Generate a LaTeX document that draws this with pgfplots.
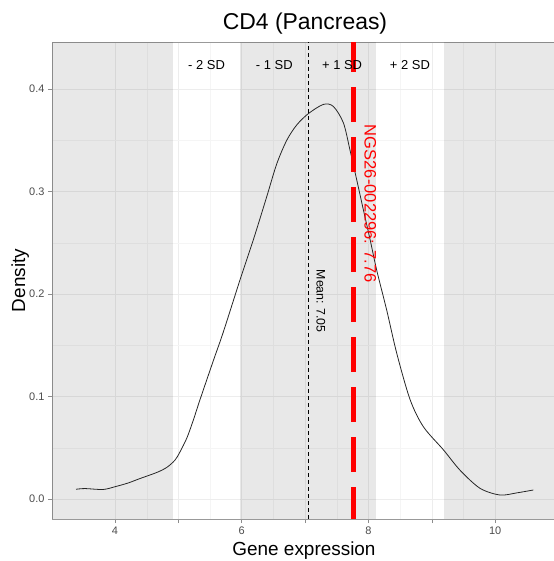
\documentclass[border=0pt]{standalone}
\usepackage{fontspec}
\setmainfont{Liberation Sans}
\usepackage{pgfplots}
\pgfplotsset{compat=1.18}
\begin{document}
\begin{tikzpicture}[x=1bp,y=1bp]
\def\xlo{3.005}\def\xhi{10.93}\def\ylo{-0.0195}\def\yhi{0.4459}
\begin{axis}[
 at={(0bp,0bp)}, anchor=south west,
 scale only axis, width=502bp, height=477bp,
 xmin=\xlo, xmax=\xhi, ymin=\ylo, ymax=\yhi,
 xtick={4,5,...,10}, xticklabels={4,,6,,8,,10},
 ytick={0,0.1,0.2,0.3,0.4}, yticklabels={0.0,0.1,0.2,0.3,0.4},
 minor x tick num=1, minor y tick num=1,
 grid=both,
 major grid style={black!7, line width=0.5bp},
 minor grid style={black!4, line width=0.3bp},
 major tick length=4bp, minor tick length=0pt,
 tick align=outside, tick pos=left,
 tick style={black!45, line width=0.5bp},
 axis line style={black!40, line width=0.6bp},
 ticklabel style={font=\fontsize{11}{11}\selectfont, text=black!70},
 /pgf/number format/assume math mode=true,
 clip=true,
]
% SD bands
\addplot[draw=none, fill=black, fill opacity=0.09, forget plot] coordinates {(\xlo,\ylo) (4.91,\ylo) (4.91,\yhi) (\xlo,\yhi)} -- cycle;
\addplot[draw=none, fill=black, fill opacity=0.09, forget plot] coordinates {(5.98,\ylo) (8.12,\ylo) (8.12,\yhi) (5.98,\yhi)} -- cycle;
\addplot[draw=none, fill=black, fill opacity=0.09, forget plot] coordinates {(9.19,\ylo) (\xhi,\ylo) (\xhi,\yhi) (9.19,\yhi)} -- cycle;
% density
\addplot[black!85, line width=0.8bp, smooth] coordinates {
(3.384,0.0095) (3.526,0.0102) (3.81,0.0093) (4.0,0.012) (4.205,0.0156) (4.395,0.020) (4.663,0.026) (4.821,0.031) (4.947,0.038) (5.026,0.046) (5.137,0.060) (5.236,0.077) (5.342,0.097) (5.552,0.135) (5.71,0.163) (5.974,0.214) (6.184,0.253) (6.395,0.295) (6.553,0.327) (6.711,0.350) (6.869,0.365) (7.052,0.376) (7.289,0.385) (7.447,0.383) (7.605,0.367) (7.711,0.340) (7.817,0.311) (7.921,0.282) (8.027,0.253) (8.132,0.223) (8.29,0.184) (8.448,0.142) (8.658,0.097) (8.868,0.0705) (9.184,0.048) (9.448,0.028) (9.763,0.0104) (10.079,0.0039) (10.343,0.006) (10.605,0.0088)
};
% mean line
\addplot[black, line width=0.8bp, dash pattern=on 4bp off 3bp] coordinates {(7.05,\ylo) (7.05,\yhi)};
% sample line
\addplot[red, line width=5bp, dash pattern=on 35bp off 15bp, dash phase=3bp] coordinates {(7.76,\ylo) (7.76,\yhi)};
% labels
\node[font=\fontsize{13}{13}\selectfont] at (axis cs:5.445,0.423) {- 2 SD};
\node[font=\fontsize{13}{13}\selectfont] at (axis cs:6.515,0.423) {- 1 SD};
\node[font=\fontsize{13}{13}\selectfont] at (axis cs:7.585,0.423) {+ 1 SD};
\node[font=\fontsize{13}{13}\selectfont] at (axis cs:8.655,0.423) {+ 2 SD};
\node[font=\fontsize{12.4}{12.4}\selectfont, rotate=-90, inner sep=0pt] at (axis cs:7.25,0.193) {Mean: 7.05};
\node[font=\fontsize{16.6}{16.6}\selectfont, rotate=-90, inner sep=0pt, text=red] at (axis cs:8.03,0.288) {NGS26-002296: 7.76};
\end{axis}
\node[anchor=base, font=\fontsize{23}{23}\selectfont] at (253bp,489.5bp) {CD4 (Pancreas)};
\node[anchor=base, font=\fontsize{19}{19}\selectfont] at (252bp,-36bp) {Gene expression};
\node[anchor=base, rotate=90, font=\fontsize{19}{19}\selectfont] at (-27bp,238.5bp) {Density};
\pgfresetboundingbox
\path[use as bounding box] (-52bp,-42bp) rectangle (502bp,519bp);
\end{tikzpicture}
\end{document}
